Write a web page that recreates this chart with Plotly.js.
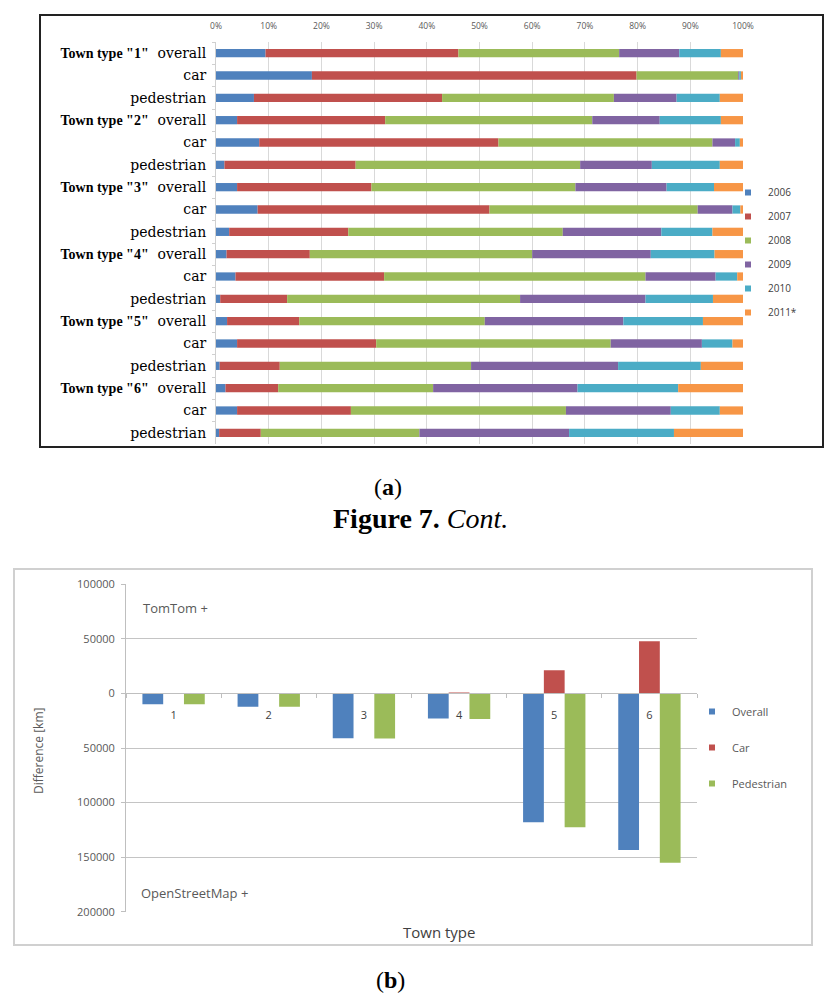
<!DOCTYPE html>
<html><head><meta charset="utf-8">
<script src="https://cdn.plot.ly/plotly-3.0.1.min.js"></script>
<style>html,body{margin:0;padding:0;background:#fff}</style>
</head><body>
<div id="chart" style="width:840px;height:1000px"></div>
<script>
// ---------- Panel (a): share of road length by year ----------
const towns = ['1','2','3','4','5','6'];
const modes = ['overall','car','pedestrian'];
const years = ['2006','2007','2008','2009','2010','2011*'];
const y2006 = [9.4,18.2,7.2, 4.0,8.2,1.6, 4.0,7.9,2.5, 2.0,3.7,0.8, 2.1,4.0,0.7, 1.8,4.0,0.6];
const y2007 = [36.6,61.6,35.7, 28.1,45.4,24.9, 25.5,44.0,22.6, 15.8,28.2,12.7, 13.7,26.4,11.4, 10.0,21.6,7.9];
const y2008 = [30.5,19.3,32.6, 39.3,40.6,42.6, 38.7,39.5,40.7, 42.2,49.6,44.2, 35.2,44.5,36.3, 29.4,40.8,30.1];
const y2009 = [11.4,0.2,11.9, 12.8,4.3,13.6, 17.3,6.6,18.7, 22.5,13.3,23.8, 26.3,17.3,27.9, 27.4,19.9,28.4];
const y2010 = [7.9,0.3,8.2, 11.6,0.9,12.9, 9.0,1.5,9.7, 12.1,4.1,12.8, 15.1,5.8,15.7, 19.1,9.3,19.9];
const y2011 = [4.2,0.4,4.4, 4.2,0.6,4.4, 5.5,0.5,5.8, 5.4,1.1,5.7, 7.6,2.0,8.0, 12.3,4.4,13.1];
const pctTicks = [0,10,20,30,40,50,60,70,80,90,100];
const yearColors = ['#4F81BD','#C0504D','#9BBB59','#8064A2','#4BACC6','#F79646'];

// ---------- Panel (b): difference in km ----------
const townTypes = ['1','2','3','4','5','6'];
const overallDiff = [-10000,-12300,-41000,-23000,-118000,-143500];
const carDiff = [0,0,0,800,21300,47900];
const pedDiff = [-10000,-12300,-41200,-23500,-122700,-155100];
const diffNames = ['Overall','Car','Pedestrian'];
const diffColors = ['#4F81BD','#C0504D','#9BBB59'];
const diffTickVals = [100000,50000,0,-50000,-100000,-150000,-200000];
const diffTickText = ['100000','50000','0','50000','100000','150000','200000'];

// ---------- build ----------
const W = 840, H = 1000;
const px = v => v / W, py = v => 1 - v / H;

const rowIds = [];
const rowLabels = [];
towns.forEach(t => modes.forEach(m => {
  rowIds.push(t + '-' + m);
  if (m === 'overall') {
    rowLabels.push('<span style="font-family:Liberation Serif;font-weight:bold;font-size:14px">Town type "' + t + '"</span>\u00a0\u00a0' + m);
  } else {
    rowLabels.push(m);
  }
}));

const series = [y2006, y2007, y2008, y2009, y2010, y2011];
const totals = rowIds.map((_, i) => series.reduce((s, a) => s + a[i], 0));
const pct = series.map(a => a.map((v, i) => v / totals[i] * 100));
const bases = pct.map((a, k) => a.map((_, i) => pct.slice(0, k).reduce((s, b) => s + b[i], 0)));

const traces = [];
pct.forEach((vals, k) => {
  traces.push({
    type: 'bar', orientation: 'h', x: vals, base: bases[k], y: rowIds,
    xaxis: 'x', yaxis: 'y', width: 0.37, offset: -0.185,
    marker: {color: yearColors[k]}, name: years[k],
    showlegend: false, hoverinfo: 'skip'
  });
  // legend key (small square) for this series
  traces.push({
    type: 'scatter', mode: 'markers', x: [null], y: [null], xaxis: 'x', yaxis: 'y',
    marker: {symbol: 'square', size: 6, color: yearColors[k]}, name: years[k],
    legend: 'legend', legendgroup: 'a' + k, hoverinfo: 'skip'
  });
});
[overallDiff, carDiff, pedDiff].forEach((vals, k) => {
  traces.push({
    type: 'bar', x: townTypes, y: vals, xaxis: 'x2', yaxis: 'y2',
    marker: {color: diffColors[k]}, name: diffNames[k],
    showlegend: false, hoverinfo: 'skip'
  });
  traces.push({
    type: 'scatter', mode: 'markers', x: [null], y: [null], xaxis: 'x2', yaxis: 'y2',
    marker: {symbol: 'square', size: 6, color: diffColors[k]}, name: diffNames[k],
    legend: 'legend2', legendgroup: 'b' + k, hoverinfo: 'skip'
  });
});

const yb0 = py(911.7), yb1 = py(584.3);
const zeroPos = yb0 + (yb1 - yb0) * (0 - (-200000)) / (100000 - (-200000));

const layout = {
  width: W, height: H,
  margin: {l: 0, r: 0, t: 0, b: 0},
  paper_bgcolor: '#ffffff', plot_bgcolor: 'rgba(0,0,0,0)',
  barmode: 'group', bargap: 0.345, bargroupgap: 0,
  font: {family: 'Open Sans', color: '#595959'},
  xaxis: {
    domain: [px(216), px(743)], anchor: 'y', side: 'top', range: [0, 100],
    tickvals: pctTicks, ticktext: pctTicks.map(v => v + '%'),
    showgrid: true, gridcolor: '#d9d9d9', gridwidth: 1, zeroline: false, showline: false,
    ticks: '', tickfont: {size: 8.5, color: '#595959'}, ticklabelstandoff: 10
  },
  yaxis: {
    domain: [py(444), py(42)], anchor: 'x', type: 'category', categoryarray: rowIds,
    autorange: 'reversed', tickvals: rowIds, ticktext: rowLabels,
    ticks: 'outside', tickson: 'boundaries', ticklen: 3, tickcolor: '#d0d0d0',
    showline: true, linecolor: '#d0d0d0', showgrid: false, zeroline: false,
    tickfont: {family: 'DejaVu Serif', size: 14, color: '#000000'}, ticklabelstandoff: 6
  },
  xaxis2: {
    domain: [px(126), px(697)], anchor: 'free', position: zeroPos, type: 'category',
    categoryarray: townTypes,
    showline: true, linecolor: '#bfbfbf', linewidth: 1, ticks: 'outside', tickson: 'boundaries',
    ticklen: 4, tickcolor: '#bfbfbf', showgrid: false, zeroline: false,
    tickfont: {size: 11, color: '#404040'}, ticklabelstandoff: 11
  },
  yaxis2: {
    domain: [yb0, yb1], anchor: 'x2', range: [-200000, 100000],
    tickvals: diffTickVals, ticktext: diffTickText,
    showline: true, linecolor: '#bfbfbf', ticks: 'outside', ticklen: 4, tickcolor: '#bfbfbf',
    showgrid: true, gridcolor: '#c4c4c4', zeroline: false,
    tickfont: {size: 11, color: '#595959'}, ticklabelstandoff: 4
  },
  legend: {
    x: px(728), y: py(178), xanchor: 'left', yanchor: 'top',
    font: {size: 10, color: '#404040'}, tracegroupgap: 5, bgcolor: 'rgba(0,0,0,0)'
  },
  legend2: {
    x: px(692), y: py(697), xanchor: 'left', yanchor: 'top',
    font: {size: 11, color: '#595959'}, tracegroupgap: 17, bgcolor: 'rgba(0,0,0,0)'
  },
  shapes: [
    {type: 'rect', xref: 'paper', yref: 'paper', x0: px(40), x1: px(823), y0: py(15), y1: py(447),
     line: {color: '#222222', width: 2}, layer: 'below'},
    {type: 'rect', xref: 'paper', yref: 'paper', x0: px(14), x1: px(812), y0: py(569), y1: py(945),
     line: {color: '#d0d0d0', width: 2}, layer: 'below'}
  ],
  annotations: [
    {xref: 'paper', yref: 'paper', x: px(388), y: py(487), xanchor: 'center', yanchor: 'middle',
     text: '(<b>a</b>)', showarrow: false, font: {family: 'Liberation Serif', size: 24, color: '#000'}},
    {xref: 'paper', yref: 'paper', x: px(420), y: py(518), xanchor: 'center', yanchor: 'middle',
     text: '<b>Figure 7.</b> <i>Cont.</i>', showarrow: false, font: {family: 'Liberation Serif', size: 28, color: '#000'}},
    {xref: 'paper', yref: 'paper', x: px(390), y: py(980), xanchor: 'center', yanchor: 'middle',
     text: '(<b>b</b>)', showarrow: false, font: {family: 'Liberation Serif', size: 24, color: '#000'}},
    {xref: 'paper', yref: 'paper', x: px(141), y: py(608), xanchor: 'left', yanchor: 'middle',
     text: 'TomTom +', showarrow: false, font: {size: 13, color: '#595959'}},
    {xref: 'paper', yref: 'paper', x: px(139), y: py(893), xanchor: 'left', yanchor: 'middle',
     text: 'OpenStreetMap +', showarrow: false, font: {size: 13, color: '#595959'}},
    {xref: 'paper', yref: 'paper', x: px(439), y: py(932), xanchor: 'center', yanchor: 'middle',
     text: 'Town type', showarrow: false, font: {size: 15, color: '#404040'}},
    {xref: 'paper', yref: 'paper', x: px(38), y: py(751), xanchor: 'center', yanchor: 'middle',
     text: 'Difference [km]', textangle: -90, showarrow: false, font: {size: 12, color: '#595959'}}
  ]
};

Plotly.newPlot('chart', traces, layout, {staticPlot: true, displayModeBar: false});
</script>
</body></html>
